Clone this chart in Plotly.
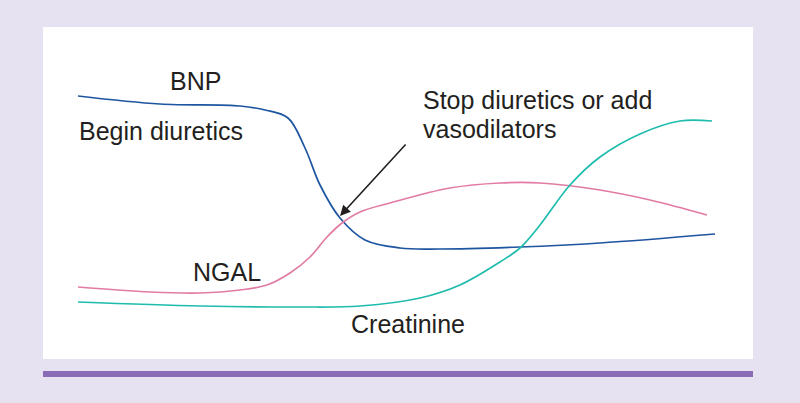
import plotly.graph_objects as go

# x / y in arbitrary units (time vs. relative level)
bnp_x = [35, 117, 197, 222, 245, 262, 277, 297, 322, 357, 397, 477, 557, 672]
bnp_y = [263, 255, 253, 249, 241, 211, 174, 141, 119, 111, 110, 112, 116, 125]

ngal_x = [35, 107, 157, 197, 224, 247, 267, 284, 299, 317, 347, 407, 457, 497, 557, 607, 664]
ngal_y = [72, 67, 66, 69, 74, 86, 102, 122, 136, 147, 156, 171, 176, 176, 169, 159, 144]

creat_x = [35, 157, 257, 317, 377, 417, 457, 477, 497, 527, 557, 597, 637, 669]
creat_y = [57, 53, 52, 53, 61, 74, 97, 111, 134, 174, 202, 225, 238, 238]

BLUE = '#1d55a0'
PINK = '#e17ba3'
TEAL = '#1fbcae'
FONT = 'Liberation Sans, Arial, sans-serif'

fig = go.Figure()

for xs, ys, col, name in [(bnp_x, bnp_y, BLUE, 'BNP'),
                          (ngal_x, ngal_y, PINK, 'NGAL'),
                          (creat_x, creat_y, TEAL, 'Creatinine')]:
    fig.add_trace(go.Scatter(x=xs, y=ys, mode='lines', name=name,
                             line=dict(color=col, width=1.7, shape='spline', smoothing=1.0)))

labels = [('BNP', 152, 278, 'center'),
          ('Begin diuretics', 34, 228, 'left'),
          ('Stop diuretics or add', 378, 259, 'left'),
          ('vasodilators', 378, 230, 'left'),
          ('NGAL', 148, 87, 'left'),
          ('Creatinine', 306, 35, 'left')]
for txt, x, y, anchor in labels:
    fig.add_annotation(x=x, y=y, text=txt, showarrow=False, xanchor=anchor,
                       font=dict(family=FONT, size=25, color='#231f20'))

# arrow pointing to the BNP / NGAL crossing
fig.add_annotation(x=297, y=143, ax=364, ay=216, axref='x', ayref='y', text='',
                   showarrow=True, arrowhead=2, arrowsize=1.3, arrowwidth=1.6,
                   arrowcolor='#231f20')

# purple rule under the panel
fig.add_shape(type='rect', xref='paper', yref='paper', x0=0, x1=1,
              y0=-0.054, y1=-0.036, fillcolor='#8a6cb6', line_width=0)

fig.update_xaxes(range=[0, 710], visible=False, fixedrange=True)
fig.update_yaxes(range=[0, 332], visible=False, fixedrange=True)
fig.update_layout(width=800, height=403, showlegend=False,
                  margin=dict(l=43, r=47, t=27, b=44),
                  paper_bgcolor='#e6e2f2', plot_bgcolor='white')

fig.write_html('out.html', config={'displayModeBar': False},
               post_script="document.body.style.margin='0';"
                           "document.body.style.background='#e6e2f2';")
